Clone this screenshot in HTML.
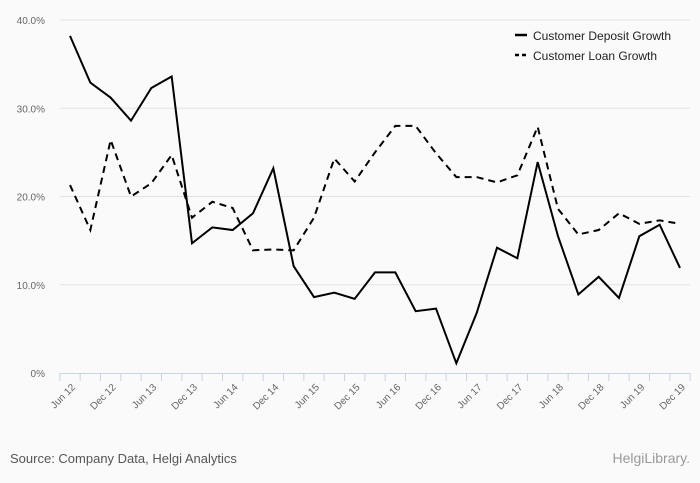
<!DOCTYPE html>
<html><head><meta charset="utf-8"><style>
body{margin:0;background:#fafafa;font-family:"Liberation Sans",sans-serif;}
svg{display:block}
</style></head><body>
<svg width="700" height="483" id="chart">
<rect width="700" height="483" fill="#fafafa"/>
<g id="grid"></g><g id="axis"></g><g id="series"></g>
<g>
<line x1="515" y1="35" x2="527" y2="35" stroke="#000" stroke-width="2.5"/>
<text x="533" y="40" font-size="12" fill="#222">Customer Deposit Growth</text>
<line x1="515" y1="55" x2="527" y2="55" stroke="#000" stroke-width="2.5" stroke-dasharray="4,3"/>
<text x="533" y="60" font-size="12" fill="#222">Customer Loan Growth</text>
</g>
<text x="10" y="463" font-size="13" fill="#555">Source: Company Data, Helgi Analytics</text>
<text x="690" y="463" font-size="14" fill="#999" text-anchor="end">HelgiLibrary.</text>
</svg>
<script>
const categories=["Jun 12","Sep 12","Dec 12","Mar 13","Jun 13","Sep 13","Dec 13","Mar 14","Jun 14","Sep 14","Dec 14","Mar 15","Jun 15","Sep 15","Dec 15","Mar 16","Jun 16","Sep 16","Dec 16","Mar 17","Jun 17","Sep 17","Dec 17","Mar 18","Jun 18","Sep 18","Dec 18","Mar 19","Jun 19","Sep 19","Dec 19"];
const depositGrowth=[38.2,32.9,31.2,28.6,32.3,33.6,14.7,16.5,16.2,18.1,23.2,12.1,8.6,9.1,8.4,11.4,11.4,7.0,7.3,1.1,6.8,14.2,13.0,23.9,15.5,8.9,10.9,8.5,15.5,16.8,11.9];
const loanGrowth=[21.3,16.2,26.4,20.0,21.5,24.7,17.6,19.4,18.7,13.9,14.0,13.9,17.6,24.3,21.7,25.0,28.0,28.0,24.9,22.2,22.2,21.6,22.4,27.9,18.6,15.7,16.2,18.1,16.9,17.3,16.9];
const yTicks=[0,10,20,30,40];
const yTickLabels=["0%","10.0%","20.0%","30.0%","40.0%"];
const NS="http://www.w3.org/2000/svg";
const x0=70,x1=680,yb=373,yt=20,left=60,right=690;
const xs=i=>x0+i*(x1-x0)/(categories.length-1);
const ys=v=>yb-v*(yb-yt)/40;
function mk(t,a,p){const e=document.createElementNS(NS,t);for(const k in a)e.setAttribute(k,a[k]);p.appendChild(e);return e;}
const grid=document.getElementById('grid'),axis=document.getElementById('axis'),ser=document.getElementById('series');
yTicks.forEach((v,i)=>{
 if(v>0){const l=mk('line',{x1:left,x2:right,y1:ys(v),y2:ys(v),stroke:'#e2e2e2'},grid);
 
 }
 const t=mk('text',{x:45,y:ys(v)+4,'font-size':10,fill:'#666','text-anchor':'end'},axis);t.textContent=yTickLabels[i];
 
 
});
mk('line',{x1:left,x2:right,y1:yb+0.5,y2:yb+0.5,stroke:'#c8d4e6'},axis);
const step=(x1-x0)/(categories.length-1);
for(let i=0;i<=categories.length;i++){const x=x0-step/2+i*step;mk('line',{x1:x,x2:x,y1:yb,y2:yb+8,stroke:'#c8d4e6'},axis);}
categories.forEach((c,i)=>{if(i%2)return;const x=xs(i),y=yb+12;
 const t=mk('text',{x:x+3,y:y+4,'font-size':10,fill:'#666','text-anchor':'end',transform:`rotate(-45 ${x+3} ${y})`},axis);t.textContent=c;
 
 });
function line(vals,dash,name){const p=mk('polyline',{points:vals.map((v,i)=>xs(i)+','+ys(v)).join(' '),fill:'none',stroke:'#000','stroke-width':2,'stroke-dasharray':dash},ser);
 
 }
line(depositGrowth,'none','deposit-growth-line');
line(loanGrowth,'7,5','loan-growth-line');
</script>
</body></html>
